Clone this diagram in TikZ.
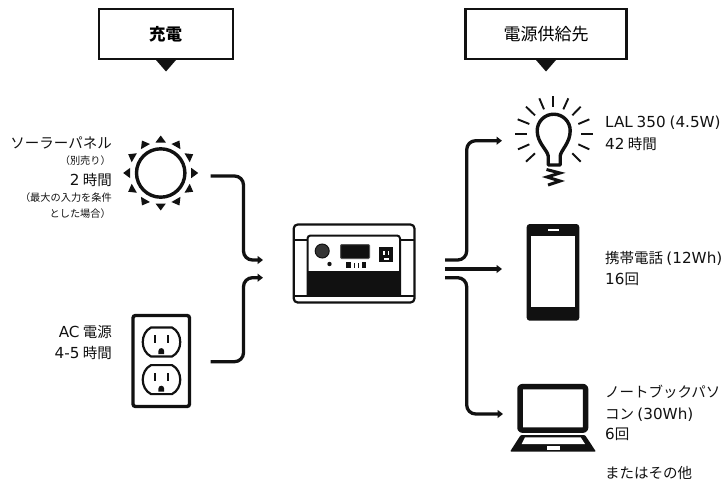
\documentclass[tikz,border=0pt]{standalone}
\usepackage{fontspec}
\usetikzlibrary{arrows.meta}
\setmainfont{Noto Sans CJK JP}
\newfontfamily\latf{DejaVu Sans}[WordSpace=0.8]
\newcommand{\La}[1]{{\latf\fontsize{15.2}{15.2}\selectfont #1}}
\definecolor{ink}{HTML}{111111}
\tikzset{
  x=1pt,y=-1pt,
  flow/.style={draw=ink,line width=3.3pt,rounded corners=9pt},
  flowtip/.style={flow,-{Triangle[length=5.5pt,width=8pt]}},
  headbox/.style={draw=ink,line width=2.8pt,fill=white,minimum width=134pt,minimum height=50pt,inner sep=0pt},
  txt/.style={text=ink,inner sep=0pt,font=\fontsize{14.5}{14.5}\selectfont},
  small/.style={text=ink,inner sep=0pt,font=\fontsize{10.2}{10.2}\selectfont},
  icon/.style={draw=ink,line width=3.4pt},
  socket/.style={draw=ink,line width=2.2pt,line join=round},
}
\begin{document}
\begin{tikzpicture}
\useasboundingbox (0,0) rectangle (728,482);
% headers
\fill[ink] (156,60) -- (176,60) -- (166,71.5) -- cycle;
\node[headbox,font=\fontsize{16.5}{16.5}\selectfont\bfseries] (hcharge) at (166,34) {\hspace{-1pt}充電};
\fill[ink] (536,60) -- (556,60) -- (546,71.5) -- cycle;
\node[headbox,minimum width=161pt,font=\fontsize{17}{17}\selectfont] (hout) at (546,34) {電源供給先};
% left labels
\node[txt,anchor=east] (l1) at (112,143) {ソーラーパネル};
\node[small,anchor=east] (l2) at (111,160.7) {（別売り）};
\node[txt,anchor=east] (l3) at (112,180) {\La{2} 時間};
\node[small,anchor=east] (l4) at (112,197.7) {（最大の入力を条件};
\node[small,anchor=east] (l5) at (111,214) {とした場合）};
\node[txt,anchor=east] (l6) at (112,331.7) {\La{AC} 電源};
\node[txt,anchor=east] (l7) at (112,352.7) {\La{4-5} 時間};
% sun
\coordinate (sunc) at (160.7,173);
\draw[icon] (sunc) circle (24.2);
\foreach \a in {0,30,...,330}{
  \fill[ink,shift={(sunc)},rotate=\a] (30.5,-5.2) -- (37.5,0) -- (30.5,5.2) -- cycle;
}
% outlet
\draw[icon,rounded corners=2.5pt] (133,315.5) rectangle (189.5,406.5);
\foreach \d in {0,37.6}{
  \begin{scope}[yshift=-\d pt]
    \draw[socket] (151,327.5) -- (172,327.5) .. controls (183,333) and (183,351) .. (172,356.5) -- (151,356.5) .. controls (140,351) and (140,333) .. (151,327.5) -- cycle;
    \fill[ink] (153.6,335) rectangle (156.2,343);
    \fill[ink] (166.6,335) rectangle (169.2,343);
    \fill[ink] (158.4,354) -- (158.4,351) arc[start angle=180,end angle=360,radius=2.9] -- (164.2,354) -- cycle;
  \end{scope}
}
% device
\draw[ink,line width=2.2pt,rounded corners=4pt,fill=white] (293.7,224.5) rectangle (414.5,302.5);
\draw[ink,line width=2pt] (293.7,240) -- (308,240);
\draw[ink,line width=2pt] (400,240) -- (414.5,240);
\draw[ink,line width=2pt,rounded corners=3pt] (307.5,296) -- (307.5,235.5) -- (400,235.5) -- (400,296);
\fill[ink] (307.5,271) rectangle (400,296);
\draw[ink,line width=2pt] (293.7,296) -- (414.5,296);
\draw[ink,line width=1pt,fill=ink!85] (322.2,251) circle (7);
\fill[ink] (329.5,264) circle (2.2);
\draw[ink!70,line width=1pt,fill=ink,rounded corners=1pt] (340.5,244.5) rectangle (369.5,258.5);
\fill[ink] (346,262) rectangle (350.5,268);
\fill[ink] (353.5,263) rectangle (354.8,268);
\fill[ink] (357.5,263) rectangle (358.8,268);
\fill[ink] (362,262) rectangle (366,268);
\fill[ink] (379,247) rectangle (393,262);
\fill[white] (383,251) rectangle (384.5,255);
\fill[white] (387.5,251) rectangle (389,255);
\fill[white] (384,257.5) rectangle (388.5,260);
% bulb
\draw[icon,line join=round] (548.2,165) -- (548.2,156) .. controls (547.5,150) and (537.2,143) .. (537.2,130.7)
  arc[start angle=180,end angle=360,radius=16.5]
  .. controls (570.2,143) and (560.9,150) .. (560.2,156) -- (560.2,165) -- cycle;
\draw[ink,line width=3pt,line join=miter] (546.5,169.5) -- (560,173) -- (547,177) -- (560,181) -- (548,185);
\foreach \xa/\ya/\xb/\yb in {190/18/190/52,148/25/162/58,235/25/220/58,108/50/135/76,272/50/247/76,83/88/118/102,298/88/265/102,75/132/112/132,308/132/272/132,84/178/118/163,298/178/265/163,108/215/135/190,272/215/247/190}{
  \draw[ink,line width=1.9pt] ({490+\xa/3},{90+\ya/3}) -- ({490+\xb/3},{90+\yb/3});
}
% phone
\fill[ink,rounded corners=3pt] (526.7,224) rectangle (579.3,320.7);
\fill[white] (530.7,236) rectangle (575,306.7);
\fill[white] (547.7,229) rectangle (558.7,231.4);
% laptop
\draw[ink,line width=5.5pt,rounded corners=2pt,fill=white,line join=round] (520,386.7) rectangle (585.5,430);
\fill[ink,rounded corners=1pt] (520.7,435) -- (585,435) -- (596,451.7) -- (510,451.7) -- cycle;
\fill[white] (525,437.3) -- (580.7,437.3) -- (585,444) -- (521.7,444) -- cycle;
\fill[white] (546.7,446) rectangle (560,450.2);
% right labels
\node[txt,anchor=west] (r1) at (605,123) {\La{LAL 350 (4.5W)}};
\node[txt,anchor=west] (r2) at (605,144.3) {\La{42} 時間};
\node[txt,anchor=west] (r3) at (605,258) {携帯電話 \La{(12Wh)}};
\node[txt,anchor=west] (r4) at (605,279) {\La{16}回};
\node[txt,anchor=west] (r5) at (605,392.3) {ノートブックパソ};
\node[txt,anchor=west] (r6) at (605,415) {コン \La{(30Wh)}};
\node[txt,anchor=west] (r7) at (605,434) {\La{6}回};
\node[txt,anchor=west] (r8) at (605,473) {またはその他};
% connectors
\coordinate (sunOut) at (210.7,176);
\coordinate (acOut) at (210.7,361.7);
\coordinate (devIn1) at (263,260);
\coordinate (devIn2) at (263,277.7);
\coordinate (outA) at (445,260);
\coordinate (outB) at (445,269);
\coordinate (outC) at (445,277.7);
\coordinate (lampIn) at (502,140.7);
\coordinate (phoneIn) at (502,269);
\coordinate (laptopIn) at (503,414);
\draw[flowtip] (sunOut) -| (243.5,260) -- (devIn1);
\draw[flowtip] (acOut) -| (243.5,277.7) -- (devIn2);
\draw[flowtip] (outA) -| (466.7,140.7) -- (lampIn);
\draw[flowtip] (outB) -- (phoneIn);
\draw[flowtip] (outC) -| (466.7,414) -- (laptopIn);
\end{tikzpicture}
\end{document}
